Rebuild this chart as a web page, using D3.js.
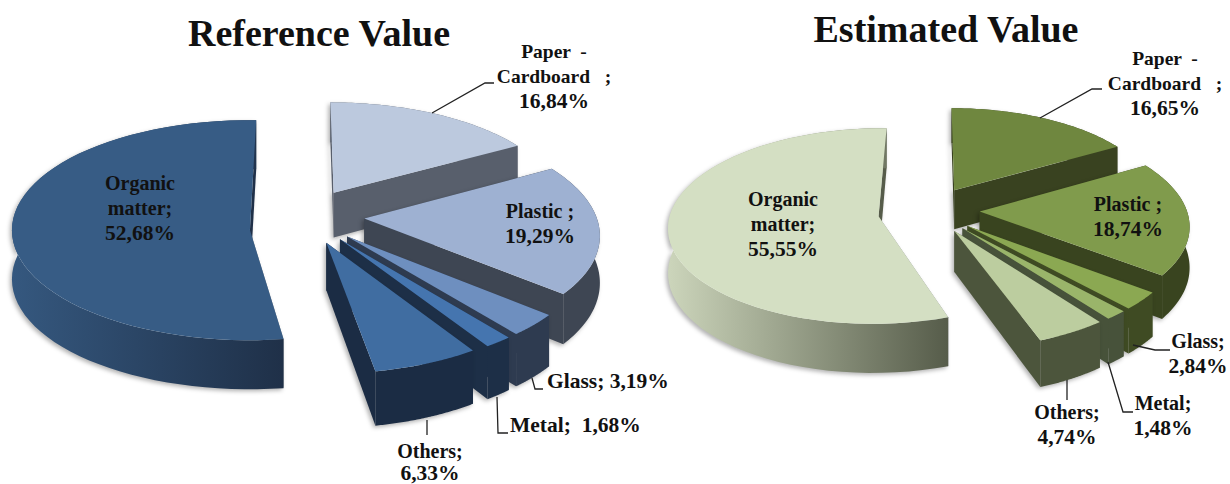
<!DOCTYPE html>
<html>
<head>
<meta charset="utf-8">
<script src="https://cdnjs.cloudflare.com/ajax/libs/d3/7.8.5/d3.min.js"></script>
<style>
html, body { margin: 0; padding: 0; background: #fff; overflow: hidden; }
text { font-family: "Liberation Serif", serif; font-weight: bold; fill: #111; }
</style>
</head>
<body>
<svg id="chart" width="1230" height="484"></svg>
<script>
var categories = ["Paper - Cardboard", "Plastic", "Glass", "Metal", "Others", "Organic matter"];
var referenceValues = [16.84, 19.29, 3.19, 1.68, 6.33, 52.68];
var estimatedValues = [16.65, 18.74, 2.84, 1.48, 4.74, 55.55];
var chartTitles = ["Reference Value", "Estimated Value"];

var referenceTops = ["#bcc9de", "#9eb1d2", "#6e8fbf", "#4575af", "#406da1", "#375c85"];
var referenceWalls = [["#585f6c", "#585f6c"], ["#3e4653", "#3e4653"], ["#2e3b50", "#2e3b50"], ["#1d2f47", "#1d2f47"], ["#1b2c44", "#1b2c44"], ["#35587f", "#1f3048"]];
var estimatedTops = ["#6f873f", "#809b4c", "#8ba852", "#9ab56a", "#bccd9f", "#d4dfc3"];
var estimatedWalls = [["#394220", "#394220"], ["#39441f", "#39441f"], ["#3f4b23", "#3f4b23"], ["#47523a", "#47523a"], ["#4c553c", "#4c553c"], ["#ccd5bb", "#565c4a"]];

// projection of each pie, the big slice does not follow the same perspective
var referenceView = { cx: 304, cy: 216, r: 232, ry: 107, persp: 8, explode: 0.26, depth: 46,
    majorR: 238, majorRy: 110, majorPersp: 1000, majorExplode: 0.228, majorLift: 12, majorTilt: 1.5, majorDepth: 49 };
var estimatedView = { cx: 930, cy: 210, r: 207, ry: 97, persp: 8, explode: 0.24, depth: 40,
    majorR: 208, majorRy: 96, majorPersp: 10, majorExplode: 0.25, majorLift: 2, majorTilt: 1, majorDepth: 44 };

// label lines per category, value goes where the null is
var referenceLabels = [
    { lines: ["Paper  -", "Cardboard   ;", null], x: 554, y: 58, dy: 25, anchor: "middle", leader: [[432, 113], [485, 83], [494, 83]] },
    { lines: ["Plastic ;", null], x: 540, y: 218, dy: 25, anchor: "middle" },
    { lines: ["Glass; #"], x: 547, y: 388, anchor: "start", leader: [[532, 378], [535, 389], [543, 389]] },
    { lines: ["Metal;  #"], x: 510, y: 432, anchor: "start", leader: [[497, 397], [498, 433], [508, 433]] },
    { lines: ["Others;", null], x: 430, y: 458, dy: 22, anchor: "middle", leader: [[427, 420], [427, 435]] },
    { lines: ["Organic", "matter;", null], x: 140, y: 190, dy: 25, anchor: "middle" }
];
var estimatedLabels = [
    { lines: ["Paper  -", "Cardboard   ;", null], x: 1165, y: 65, dy: 25, anchor: "middle", leader: [[1040, 118], [1092, 89], [1102, 89]] },
    { lines: ["Plastic ;", null], x: 1128, y: 211, dy: 25, anchor: "middle" },
    { lines: ["Glass;", null], x: 1198, y: 348, dy: 25, anchor: "middle", leader: [[1133, 345], [1155, 350], [1170, 350]] },
    { lines: ["Metal;", null], x: 1163, y: 410, dy: 25, anchor: "middle", leader: [[1108, 362], [1123, 412], [1133, 412]] },
    { lines: ["Others;", null], x: 1067, y: 419, dy: 25, anchor: "middle", leader: [[1067, 380], [1067, 400]] },
    { lines: ["Organic", "matter;", null], x: 783, y: 206, dy: 25, anchor: "middle" }
];

var svg = d3.select("#chart");
var defs = svg.append("defs");
var line = d3.line();
var formatValue = function (v) { return d3.format(".2f")(v).replace(".", ",") + "%"; };
var pie = d3.pie().sort(null).value(function (d) { return d; });

function drawPie(id, values, view, tops, walls, labels, title, titleX, titleY) {
    var group = svg.append("g").attr("class", id);
    var slices = pie(values);
    // organic matter sits behind everything else
    var order = [5, 0, 1, 2, 3, 4];

    order.forEach(function (index) {
        var slice = slices[index];
        var major = index === 5;
        var mid = (slice.startAngle + slice.endAngle) / 2;
        var r = major ? view.majorR : view.r;
        var ry = major ? view.majorRy : view.ry;
        var persp = major ? view.majorPersp : view.persp;
        var explode = major ? view.majorExplode : view.explode;
        var lift = major ? view.majorLift : 0;
        var tilt = major ? view.majorTilt * Math.PI / 180 : 0;
        var depth = major ? view.majorDepth : view.depth;

        var project = function (angle, rho, z) {
            var x = explode * Math.sin(mid) + rho * Math.sin(angle + tilt);
            var y = -explode * Math.cos(mid) - rho * Math.cos(angle + tilt);
            var s = 1 / (1 - y / persp);
            return [view.cx + x * r * s, view.cy + lift + (y * ry + z) * s];
        };

        var arcAngles = d3.range(0, 61).map(function (i) {
            return slice.startAngle + (slice.endAngle - slice.startAngle) * i / 60;
        });
        var rim = arcAngles.map(function (a) { return project(a, 1, 0); });
        var rimLow = arcAngles.map(function (a) { return project(a, 1, depth); }).reverse();
        var apex = project(0, 0, 0);
        var apexLow = project(0, 0, depth);

        var gradientId = id + "-wall-" + index;
        var xRange = d3.extent(rim, function (p) { return p[0]; });
        var gradient = defs.append("linearGradient").attr("id", gradientId)
            .attr("gradientUnits", "userSpaceOnUse")
            .attr("x1", xRange[0]).attr("x2", xRange[1]).attr("y1", 0).attr("y2", 0);
        gradient.append("stop").attr("offset", "0%").attr("stop-color", walls[index][0]);
        gradient.append("stop").attr("offset", "100%").attr("stop-color", walls[index][1]);

        var sliceGroup = group.append("g");
        var wallGroup = sliceGroup.append("g")
            .style("filter", "drop-shadow(-2px 2px 2px rgba(0,0,0,0.3))");

        // both cut faces, then the outer wall over them
        wallGroup.append("path")
            .attr("d", line([apex, rim[0], rimLow[60], apexLow]) + "Z")
            .attr("fill", major ? "#8d9196" : walls[index][1]);
        wallGroup.append("path")
            .attr("d", line([apex, rim[60], rimLow[0], apexLow]) + "Z")
            .attr("fill", walls[index][1]);
        wallGroup.append("path")
            .attr("d", line(rim.concat(rimLow)) + "Z")
            .attr("fill", "url(#" + gradientId + ")");

        sliceGroup.append("path")
            .attr("d", line([apex].concat(rim)) + "Z")
            .attr("fill", tops[index]);
    });

    labels.forEach(function (label, index) {
        if (label.leader) {
            group.append("path")
                .attr("d", line(label.leader))
                .attr("fill", "none")
                .attr("stroke", "#222")
                .attr("stroke-width", 1.3);
        }
        label.lines.forEach(function (text, i) {
            var hasValue = text === null || text.indexOf("#") >= 0;
            var content = text === null ? formatValue(values[index]) : text.replace("#", formatValue(values[index]));
            var size = hasValue ? 21.5 : (text.indexOf("Cardboard") >= 0 || text.indexOf("Paper") >= 0 ? 19.5 : 20);
            group.append("text")
                .attr("x", label.x)
                .attr("y", label.y + i * (label.dy || 0))
                .attr("text-anchor", label.anchor)
                .attr("font-size", size)
                .attr("xml:space", "preserve")
                .style("white-space", "pre")
                .text(content);
        });
    });

    group.append("text")
        .attr("x", titleX)
        .attr("y", titleY)
        .attr("text-anchor", "middle")
        .attr("font-size", 38)
        .text(title);
}

drawPie("reference", referenceValues, referenceView, referenceTops, referenceWalls, referenceLabels, chartTitles[0], 319, 46);
drawPie("estimated", estimatedValues, estimatedView, estimatedTops, estimatedWalls, estimatedLabels, chartTitles[1], 946, 42);
</script>
</body>
</html>
